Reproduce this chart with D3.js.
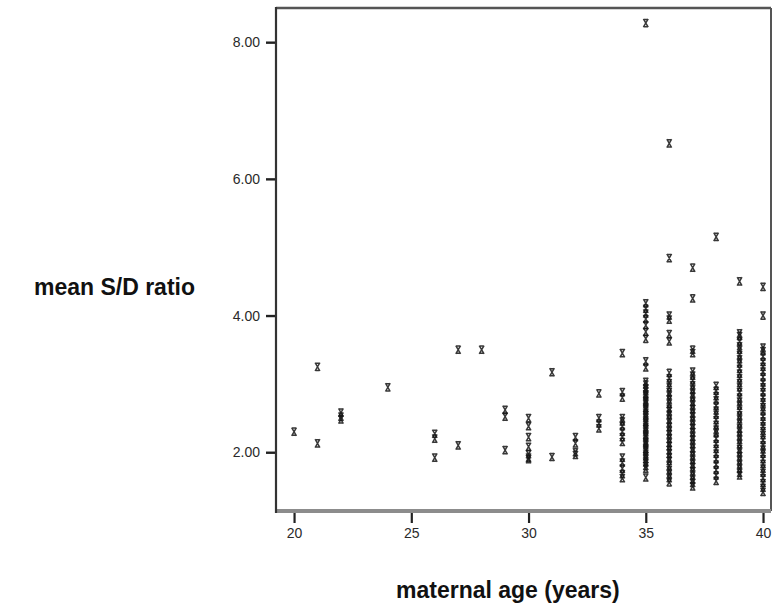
<!DOCTYPE html>
<html>
<head>
<meta charset="utf-8">
<script src="https://cdn.jsdelivr.net/npm/d3@7"></script>
<style>
  body { margin: 0; background: #fff; }
  svg { display: block; }
</style>
</head>
<body>
<div id="scatterPlot"></div>
<script>
// maternal age per column and the S/D ratios
var ages = [20, 21, 22, 24, 26, 27, 28, 29, 30, 31, 32, 33, 34, 35, 36, 37, 38, 39, 40];
var ratiosByAge = [
  [2.30],
  [3.25, 2.13],
  [2.58, 2.52, 2.48],
  [2.95],
  [2.27, 2.20, 1.92],
  [3.50, 2.10],
  [3.50],
  [2.62, 2.52, 2.03],
  [2.50, 2.38, 2.22, 2.08, 1.97, 1.92, 1.90],
  [3.17, 1.93],
  [2.22, 2.13, 2.00, 1.96],
  [2.86, 2.50, 2.42, 2.35],
  [3.45, 2.88, 2.80, 2.50, 2.45, 2.38, 2.30, 2.22, 2.15, 1.92, 1.85, 1.76, 1.68, 1.62],
  [8.28, 4.18, 4.10, 4.03, 3.95, 3.86, 3.76, 3.66, 3.33, 3.24, 3.03, 2.99, 2.94, 2.90, 2.85, 2.82,
   2.77, 2.74, 2.70, 2.65, 2.62, 2.57, 2.54, 2.50, 2.45, 2.42, 2.37, 2.34, 2.30, 2.25, 2.22, 2.17,
   2.14, 2.10, 2.05, 2.02, 1.97, 1.94, 1.90, 1.85, 1.80, 1.76, 1.63],
  [6.52, 4.84, 4.00, 3.94, 3.73, 3.62, 3.16, 3.08, 3.01, 2.95, 2.88, 2.83, 2.77, 2.71, 2.64, 2.60,
   2.55, 2.48, 2.43, 2.37, 2.31, 2.26, 2.20, 2.14, 2.09, 2.03, 1.98, 1.92, 1.87, 1.80, 1.74, 1.68,
   1.62, 1.56],
  [4.70, 4.25, 3.50, 3.45, 3.18, 3.12, 3.05, 2.98, 2.92, 2.86, 2.81, 2.74, 2.69, 2.63, 2.57, 2.52,
   2.46, 2.40, 2.35, 2.29, 2.23, 2.18, 2.12, 2.06, 2.01, 1.95, 1.89, 1.83, 1.78, 1.72, 1.66, 1.60,
   1.55, 1.50],
  [5.15, 2.97, 2.90, 2.82, 2.76, 2.68, 2.61, 2.55, 2.47, 2.40, 2.33, 2.28, 2.20, 2.12, 2.05, 1.98,
   1.90, 1.82, 1.74, 1.66, 1.58],
  [4.50, 3.74, 3.70, 3.62, 3.55, 3.50, 3.42, 3.36, 3.30, 3.22, 3.15, 3.08, 3.01, 2.95, 2.88, 2.80,
   2.74, 2.68, 2.61, 2.54, 2.48, 2.42, 2.35, 2.30, 2.24, 2.18, 2.12, 2.05, 2.00, 1.94, 1.88, 1.82,
   1.76, 1.70, 1.66],
  [4.42, 4.00, 3.53, 3.48, 3.40, 3.32, 3.25, 3.18, 3.10, 3.02, 2.95, 2.88, 2.80, 2.73, 2.66, 2.60,
   2.52, 2.45, 2.38, 2.31, 2.25, 2.18, 2.10, 2.04, 1.98, 1.90, 1.83, 1.76, 1.70, 1.62, 1.55, 1.48,
   1.42]
];
var xTicks = [20, 25, 30, 35, 40];
var yTicks = [2, 4, 6, 8];

var points = [];
ages.forEach((a, i) => ratiosByAge[i].forEach(v => points.push({age: a, ratio: v})));

var width = 773;
var height = 606;
var plot = {left: 276, right: 771, top: 8, bottom: 511};

var x = d3.scaleLinear()
    .domain([19.23, 40.34])
    .range([plot.left, plot.right]);
var y = d3.scaleLinear()
    .domain([1.14, 8.5])
    .range([plot.bottom, plot.top]);

function drawChart() {
  const svg = d3.select('#scatterPlot')
    .append('svg')
      .attr('width', width)
      .attr('height', height)
      .style('font-family', 'Liberation Sans, Arial, sans-serif');

  // x axis
  const xAxis = svg.append('g')
      .attr('transform', `translate(0, ${plot.bottom})`)
      .call(d3.axisBottom(x).tickValues(xTicks).tickSize(12).tickPadding(5));
  xAxis.select('.domain').remove();
  xAxis.selectAll('.tick line').attr('stroke', '#222').attr('stroke-width', 2.2);
  xAxis.selectAll('.tick text').attr('fill', '#2a2a2a').style('font-size', '14px');

  // y axis
  const yAxis = svg.append('g')
      .attr('transform', `translate(${plot.left}, 0)`)
      .call(d3.axisLeft(y).tickValues(yTicks).tickFormat(d3.format('.2f')).tickSize(10).tickPadding(6));
  yAxis.select('.domain').remove();
  yAxis.selectAll('.tick line').attr('stroke', '#222').attr('stroke-width', 2.4);
  yAxis.selectAll('.tick text').attr('fill', '#2a2a2a').style('font-size', '14px');

  // frame
  svg.append('line')
      .attr('x1', plot.left).attr('x2', plot.right)
      .attr('y1', plot.top).attr('y2', plot.top)
      .attr('stroke', '#555').attr('stroke-width', 2.5);
  svg.append('line')
      .attr('x1', plot.right).attr('x2', plot.right)
      .attr('y1', plot.top).attr('y2', plot.bottom)
      .attr('stroke', '#555').attr('stroke-width', 2);
  svg.append('line')
      .attr('x1', plot.left).attr('x2', plot.right)
      .attr('y1', plot.bottom).attr('y2', plot.bottom)
      .attr('stroke', '#8c8c8c').attr('stroke-width', 4);
  svg.append('line')
      .attr('x1', plot.left).attr('x2', plot.left)
      .attr('y1', plot.top - 1).attr('y2', plot.bottom + 2)
      .attr('stroke', '#333').attr('stroke-width', 2.2);

  // points, drawn as small x marks
  svg.append('g')
    .selectAll('path')
    .data(points)
    .join('path')
      .attr('transform', d => `translate(${x(d.age)}, ${y(d.ratio)})`)
      .attr('d', 'M-2.4,-4.2 L2.4,4.2 M2.4,-4.2 L-2.4,4.2 M-2.2,-3.6 L2.2,-3.6 M-2.2,3.6 L2.2,3.6')
      .attr('fill', 'none')
      .attr('stroke', '#151515')
      .attr('stroke-width', 1.5)
      .attr('opacity', 0.85);

  // axis titles
  svg.append('text')
      .attr('x', 195)
      .attr('y', 295)
      .attr('text-anchor', 'end')
      .style('font-size', '23px')
      .style('font-weight', 'bold')
      .attr('fill', '#111')
      .text('mean S/D ratio');

  svg.append('text')
      .attr('x', 396)
      .attr('y', 598)
      .style('font-size', '23px')
      .style('font-weight', 'bold')
      .attr('fill', '#111')
      .text('maternal age (years)');

  return svg.node();
}

window.onload = drawChart;
</script>
</body>
</html>
